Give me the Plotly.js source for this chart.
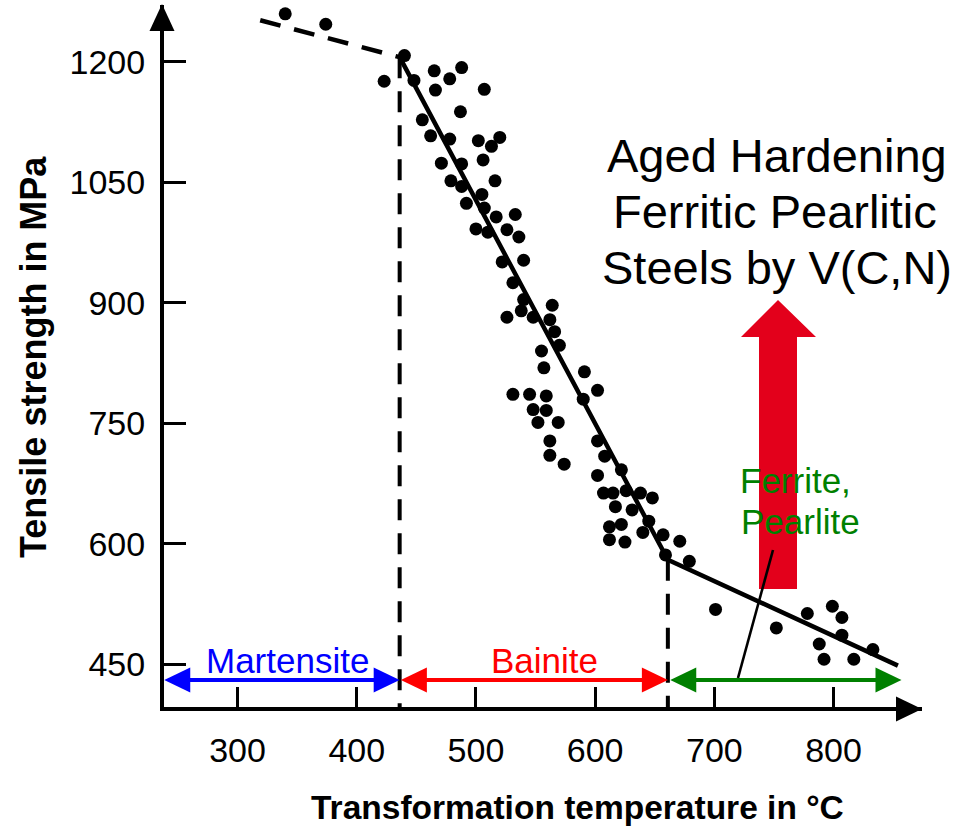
<!DOCTYPE html>
<html>
<head>
<meta charset="utf-8">
<script src="https://cdn.plot.ly/plotly-3.0.1.min.js"></script>
<style>
  html, body { margin: 0; padding: 0; background: #fff; }
  #chart { width: 970px; height: 829px; }
</style>
</head>
<body>
<div id="chart"></div>
<script>
// ---- measured data: transformation temperature (°C) vs tensile strength (MPa) ----
const tempC = [
  340, 374, 440, 423, 448, 465, 466, 478, 488, 507,
  487, 455, 462, 478, 502, 513, 520, 471, 488, 506,
  516, 479, 488, 505, 492, 507, 517, 533, 500, 510,
  526, 536, 522, 540, 531, 540, 564, 538, 526, 548,
  562, 566, 570, 555, 557, 591, 602, 590, 531, 545,
  559, 548, 559, 552, 569, 562, 562, 574, 602, 608,
  602, 622, 607, 615, 626, 638, 648, 617, 631, 645,
  612, 622, 640, 657, 671, 612, 625, 659, 679, 701,
  752, 778, 799, 807, 807, 788, 792, 817, 833
];
const strengthMPa = [
  1260, 1247, 1208, 1176, 1177, 1189, 1165, 1179, 1193, 1166,
  1138, 1128, 1108, 1104, 1102, 1095, 1106, 1074, 1073, 1078,
  1052, 1052, 1045, 1035, 1024, 1018, 1007, 1010, 992, 988,
  991, 982, 951, 953, 925, 904, 897, 890, 882, 882,
  879, 864, 847, 840, 819, 814, 791, 780, 786, 786,
  784, 767, 766, 751, 751, 728, 710, 699, 728, 709,
  685, 692, 663, 663, 666, 663, 657, 646, 642, 628,
  621, 624, 614, 611, 603, 605, 602, 586, 578, 518,
  495, 513, 522, 508, 486, 475, 456, 456, 468
];

// piecewise trend: extrapolated (dashed) part and fitted (solid) part
const trendDashT = [319, 436];
const trendDashV = [1252, 1206];
const trendT = [436, 661, 854];
const trendV = [1206, 580, 448];

// microstructure ranges along the temperature axis
const phaseNames = ['Martensite', 'Bainite', 'Ferrite,<br>Pearlite'];
const phaseStart = [238.5, 437, 663];
const phaseEnd = [436, 661, 857];
const phaseColors = ['#0000ff', '#ff0000', '#008000'];
const phaseLevel = 430;

const xTicks = [300, 400, 500, 600, 700, 800];
const yTicks = [450, 600, 750, 900, 1050, 1200];

// ---- geometry ----
const W = 970, H = 829;
const M = { l: 164, r: 48, t: 5, b: 122 };
const xr = [238.3, 874.2];
const yr = [396.5, 1271];
const pw = W - M.l - M.r, ph = H - M.t - M.b;
const pxPerT = pw / (xr[1] - xr[0]);
const pxPerV = ph / (yr[1] - yr[0]);
// pixel position -> paper fraction (for decorations and text)
const px = x => (x - M.l) / pw;
const py = y => (H - M.b - y) / ph;

const FONT = 'Liberation Sans, Arial, Helvetica, sans-serif';

// filled triangle (arrowhead) in data coordinates, sized in pixels
function headData(tipT, tipV, dir, len, half) {
  const dT = len / pxPerT, hV = half / pxPerV;
  const bT = dir === 'left' ? tipT + dT : tipT - dT;
  return {
    type: 'path', xref: 'x', yref: 'y', layer: 'above',
    path: `M${tipT},${tipV} L${bT},${tipV + hV} L${bT},${tipV - hV} Z`,
    line: { width: 0 }, fillcolor: null
  };
}

const shapes = [];

// big red arrow (drawn under everything)
shapes.push({
  type: 'path', xref: 'paper', yref: 'paper', layer: 'below',
  path: `M${px(759)},${py(589)} L${px(797)},${py(589)} L${px(797)},${py(337)} L${px(816)},${py(337)} ` +
        `L${px(778)},${py(300)} L${px(741)},${py(337)} L${px(759)},${py(337)} Z`,
  fillcolor: '#e3001b', line: { width: 0 }
});

// axis arrowheads
shapes.push({
  type: 'path', xref: 'paper', yref: 'paper', layer: 'above',
  path: `M${px(162)},${py(4)} L${px(174.5)},${py(31)} L${px(149.5)},${py(31)} Z`,
  fillcolor: '#000', line: { width: 0 }
});
shapes.push({
  type: 'path', xref: 'paper', yref: 'paper', layer: 'above',
  path: `M${px(922)},${py(709)} L${px(896)},${py(696.5)} L${px(896)},${py(721.5)} Z`,
  fillcolor: '#000', line: { width: 0 }
});

// double-headed range arrows
for (let i = 0; i < phaseNames.length; i++) {
  const a = phaseStart[i], b = phaseEnd[i], c = phaseColors[i];
  const inset = 20 / pxPerT;
  shapes.push({
    type: 'line', xref: 'x', yref: 'y', layer: 'above',
    x0: a + inset, x1: b - inset, y0: phaseLevel, y1: phaseLevel,
    line: { color: c, width: 4 }
  });
  const h1 = headData(a, phaseLevel, 'left', 26, 12.5); h1.fillcolor = c;
  const h2 = headData(b, phaseLevel, 'right', 26, 12.5); h2.fillcolor = c;
  shapes.push(h1, h2);
}

// leader line from the ferrite/pearlite label to its range arrow
shapes.push({
  type: 'line', xref: 'paper', yref: 'paper', layer: 'above',
  x0: px(773), y0: py(550), x1: px(738), y1: py(678),
  line: { color: '#000', width: 2.6 }
});

const traces = [
  // transition boundaries
  {
    x: [trendT[0], trendT[0]], y: [trendV[0], yr[0]],
    mode: 'lines', line: { color: '#000', width: 4, dash: '21px,13px' },
    hoverinfo: 'skip', cliponaxis: false
  },
  {
    x: [trendT[1], trendT[1]], y: [trendV[1], yr[0]],
    mode: 'lines', line: { color: '#000', width: 4, dash: '21px,13px' },
    hoverinfo: 'skip', cliponaxis: false
  },
  {
    x: trendDashT, y: trendDashV,
    mode: 'lines', line: { color: '#000', width: 4.5, dash: '21px,14px' },
    hoverinfo: 'skip'
  },
  {
    x: trendT, y: trendV,
    mode: 'lines', line: { color: '#000', width: 4.5 },
    hoverinfo: 'skip'
  },
  {
    x: tempC, y: strengthMPa,
    mode: 'markers', marker: { color: '#000', size: 13 },
    hoverinfo: 'x+y'
  }
];

const annotations = [];
function label(text, x, y, size, color, opts) {
  annotations.push(Object.assign({
    text: text, xref: 'paper', yref: 'paper', x: px(x), y: py(y),
    xanchor: 'center', yanchor: 'middle', showarrow: false,
    font: { family: FONT, size: size, color: color }
  }, opts || {}));
}

// headline
label('Aged Hardening', 777, 155, 47, '#000');
label('Ferritic Pearlitic', 775, 212, 47, '#000');
label('Steels by V(C,N)', 777, 267, 47, '#000');

// range labels
label(phaseNames[0], 287, 660, 35, phaseColors[0]);
label(phaseNames[1], 544, 660, 35, phaseColors[1]);
label('Ferrite,', 738, 480, 35, phaseColors[2], { xanchor: 'left' });
label('Pearlite', 739, 521, 35, phaseColors[2], { xanchor: 'left' });

// axis titles
label('<b>Transformation temperature in °C</b>', 577, 807, 33.5, '#000');
label('<b>Tensile strength in MPa</b>', 34, 357, 36, '#000', { textangle: -90 });

const layout = {
  width: W, height: H,
  margin: M,
  paper_bgcolor: '#fff', plot_bgcolor: '#fff',
  showlegend: false,
  hovermode: 'closest',
  font: { family: FONT, color: '#000' },
  xaxis: {
    range: xr, tickvals: xTicks, ticktext: xTicks.map(String),
    showgrid: false, zeroline: false,
    showline: true, linecolor: '#000', linewidth: 4,
    ticks: 'inside', ticklen: 20, tickwidth: 2.5, tickcolor: '#000',
    ticklabelstandoff: 10,
    tickfont: { family: FONT, size: 34, color: '#000' },
    fixedrange: true
  },
  yaxis: {
    range: yr, tickvals: yTicks, ticktext: yTicks.map(String),
    showgrid: false, zeroline: false,
    showline: true, linecolor: '#000', linewidth: 4,
    ticks: 'inside', ticklen: 22, tickwidth: 3, tickcolor: '#000',
    ticklabelstandoff: 8,
    tickfont: { family: FONT, size: 34, color: '#000' },
    fixedrange: true
  },
  shapes: shapes,
  annotations: annotations
};

Plotly.newPlot('chart', traces, layout, { displayModeBar: false, staticPlot: false });
</script>
</body>
</html>
